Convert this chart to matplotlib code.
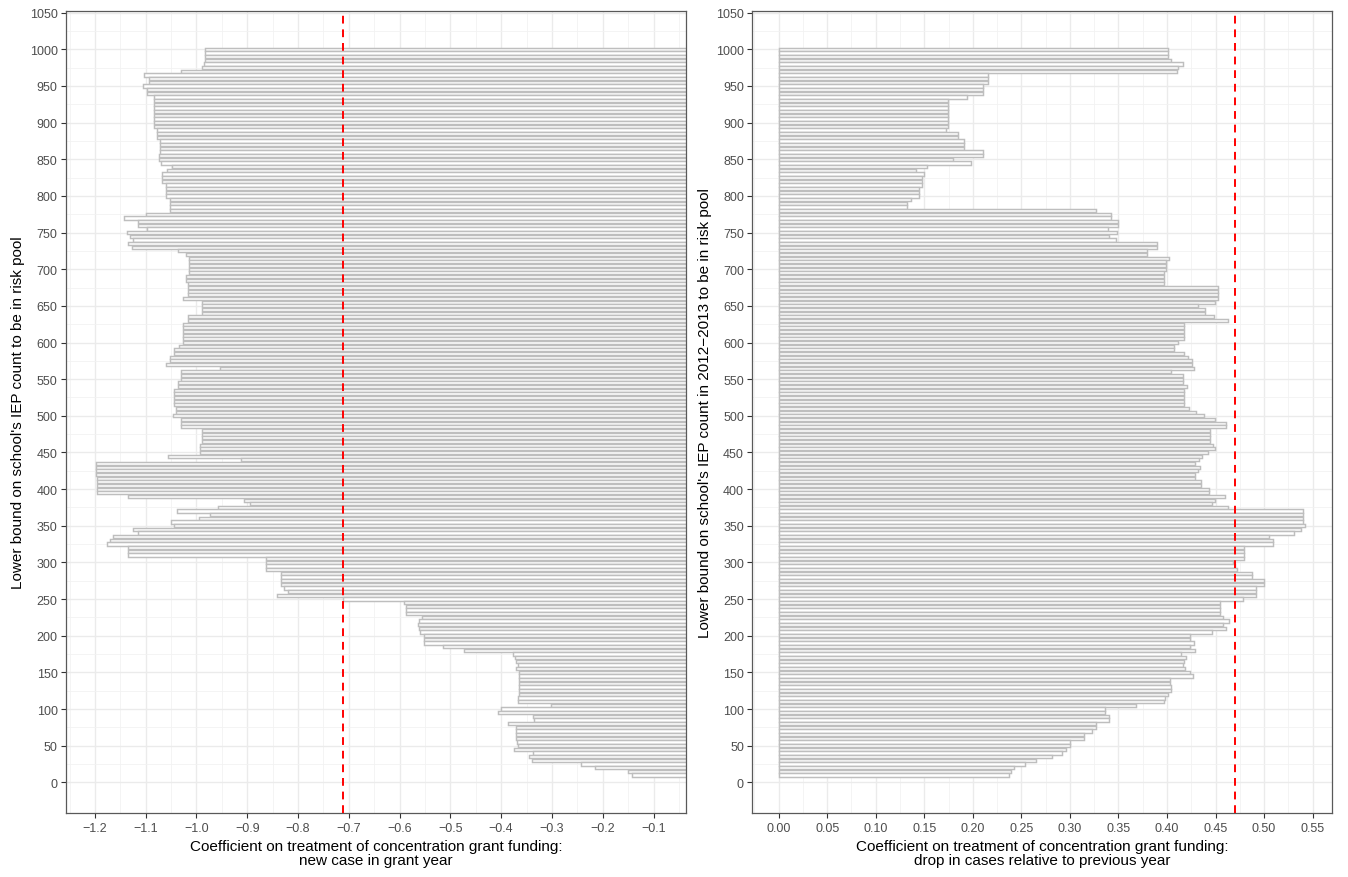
import matplotlib
matplotlib.use("Agg")
import matplotlib.pyplot as plt
import numpy as np
from matplotlib.ticker import FixedLocator, FuncFormatter

plt.rcParams['font.family'] = ['Liberation Sans', 'DejaVu Sans']

# IEP-count thresholds (descending, 1000 .. 10)
thresholds = np.arange(1000, 5, -5)

# Left panel: coefficient on new case in grant year (one row = 10 thresholds)
coef_new_case = [
    -0.983, -0.983, -0.983, -0.983, -0.986, -0.990, -1.031, -1.104, -1.093, -1.093,  # 1000..955
    -1.105, -1.097, -1.097, -1.084, -1.084, -1.084, -1.084, -1.084, -1.084, -1.084,  # 950..905
    -1.084, -1.084, -1.077, -1.077, -1.077, -1.071, -1.071, -1.071, -1.071, -1.073,  # 900..855
    -1.073, -1.069, -1.048, -1.058, -1.067, -1.067, -1.067, -1.060, -1.060, -1.060,  # 850..805
    -1.060, -1.052, -1.052, -1.052, -1.052, -1.100, -1.143, -1.115, -1.115, -1.098,  # 800..755
    -1.136, -1.131, -1.126, -1.134, -1.128, -1.036, -1.021, -1.014, -1.014, -1.014,  # 750..705
    -1.014, -1.014, -1.021, -1.021, -1.017, -1.017, -1.017, -1.017, -1.027, -0.990,  # 700..655
    -0.990, -0.990, -0.990, -1.017, -1.017, -1.027, -1.027, -1.027, -1.027, -1.027,  # 650..605
    -1.027, -1.034, -1.044, -1.044, -1.052, -1.052, -1.060, -0.953, -1.031, -1.031,  # 600..555
    -1.031, -1.036, -1.036, -1.044, -1.044, -1.044, -1.044, -1.044, -1.040, -1.040,  # 550..505
    -1.047, -1.030, -1.030, -1.030, -0.990, -0.990, -0.990, -0.990, -0.993, -0.993,  # 500..455
    -0.993, -1.056, -0.913, -1.198, -1.197, -1.197, -1.197, -1.195, -1.195, -1.195,  # 450..405
    -1.195, -1.195, -1.134, -0.907, -0.895, -0.957, -1.039, -0.974, -0.995, -1.051,  # 400..355
    -1.044, -1.125, -1.115, -1.165, -1.170, -1.176, -1.134, -1.134, -1.134, -0.863,  # 350..305
    -0.863, -0.863, -0.863, -0.833, -0.833, -0.833, -0.833, -0.827, -0.820, -0.842,  # 300..255
    -0.712, -0.592, -0.588, -0.588, -0.588, -0.556, -0.562, -0.564, -0.561, -0.560,  # 250..205
    -0.552, -0.552, -0.552, -0.514, -0.474, -0.377, -0.373, -0.370, -0.367, -0.370,  # 200..155
    -0.365, -0.364, -0.364, -0.364, -0.364, -0.364, -0.364, -0.366, -0.367, -0.301,  # 150..105
    -0.401, -0.406, -0.337, -0.336, -0.386, -0.370, -0.371, -0.371, -0.370, -0.369,  # 100..55
    -0.366, -0.375, -0.337, -0.345, -0.340, -0.242, -0.216, -0.150, -0.142,          # 50..10
]

# Right panel: coefficient on drop in cases relative to previous year
coef_drop = [
    0.401, 0.401, 0.401, 0.404, 0.4165, 0.411, 0.410, 0.216, 0.216, 0.216,           # 1000..955
    0.211, 0.211, 0.211, 0.194, 0.1746, 0.1746, 0.1746, 0.1746, 0.1746, 0.1746,      # 950..905
    0.1746, 0.1746, 0.172, 0.1845, 0.1845, 0.1914, 0.1914, 0.1914, 0.210, 0.210,     # 900..855
    0.180, 0.198, 0.153, 0.142, 0.1496, 0.148, 0.148, 0.148, 0.1445, 0.1445,         # 850..805
    0.1445, 0.136, 0.1325, 0.1325, 0.327, 0.342, 0.342, 0.350, 0.350, 0.3396,        # 800..755
    0.348, 0.340, 0.347, 0.390, 0.390, 0.379, 0.379, 0.402, 0.399, 0.399,            # 750..705
    0.399, 0.397, 0.397, 0.397, 0.397, 0.452, 0.452, 0.452, 0.452, 0.449,            # 700..655
    0.432, 0.439, 0.439, 0.448, 0.463, 0.417, 0.417, 0.417, 0.417, 0.417,            # 650..605
    0.411, 0.407, 0.407, 0.417, 0.422, 0.4255, 0.4255, 0.428, 0.404, 0.416,          # 600..555
    0.416, 0.416, 0.421, 0.418, 0.418, 0.418, 0.418, 0.418, 0.423, 0.430,            # 550..505
    0.4378, 0.4498, 0.4604, 0.4604, 0.4446, 0.4446, 0.4446, 0.4446, 0.4474, 0.4498,  # 500..455
    0.442, 0.436, 0.433, 0.429, 0.434, 0.4315, 0.429, 0.429, 0.435, 0.435,           # 450..405
    0.4432, 0.4432, 0.460, 0.4498, 0.4466, 0.4627, 0.5397, 0.5397, 0.5397, 0.5397,   # 400..355
    0.5425, 0.538, 0.531, 0.5055, 0.509, 0.509, 0.4788, 0.4788, 0.4788, 0.4788,      # 350..305
    0.468, 0.470, 0.4725, 0.4878, 0.4878, 0.4997, 0.4997, 0.4915, 0.492, 0.492,      # 300..255
    0.478, 0.4542, 0.4542, 0.4542, 0.4542, 0.4576, 0.4638, 0.4576, 0.461, 0.4463,    # 250..205
    0.424, 0.424, 0.4275, 0.424, 0.429, 0.4142, 0.420, 0.418, 0.4166, 0.419,         # 200..155
    0.4234, 0.4268, 0.4029, 0.4029, 0.4046, 0.4046, 0.4012, 0.398, 0.397, 0.3677,    # 150..105
    0.3358, 0.3358, 0.340, 0.340, 0.3266, 0.3266, 0.3226, 0.3149, 0.3149, 0.300,     # 100..55
    0.300, 0.2962, 0.2917, 0.2814, 0.2653, 0.2533, 0.242, 0.2393, 0.2376,            # 50..10
]

ref_new_case = -0.712
ref_drop = 0.4696

y_major = list(range(0, 1051, 50))
y_minor = list(range(25, 1051, 50))
x1_major = [-1.2, -1.1, -1.0, -0.9, -0.8, -0.7, -0.6, -0.5, -0.4, -0.3, -0.2, -0.1]
x2_major = [0.00, 0.05, 0.10, 0.15, 0.20, 0.25, 0.30, 0.35, 0.40, 0.45, 0.50, 0.55]

W, H = 1348, 878
fig = plt.figure(figsize=(W / 100, H / 100), dpi=100)
top_px, bot_px = 12.0, 814.3
ax1 = fig.add_axes([66 / W, 1 - bot_px / H, (686 - 66) / W, (bot_px - top_px) / H])
ax2 = fig.add_axes([752.3 / W, 1 - bot_px / H, (1331.7 - 752.3) / W, (bot_px - top_px) / H])


def style(ax, xmaj, fmt):
    ax.set_facecolor('white')
    ax.set_axisbelow(True)
    for s in ax.spines.values():
        s.set_color('#595959')
        s.set_linewidth(0.9)
    ax.yaxis.set_major_locator(FixedLocator(y_major))
    ax.yaxis.set_minor_locator(FixedLocator(y_minor))
    ax.xaxis.set_major_locator(FixedLocator(xmaj))
    xmin = [(a + b) / 2 for a, b in zip(xmaj[:-1], xmaj[1:])]
    xmin = [xmaj[0] - (xmaj[1] - xmaj[0]) / 2] + xmin + [xmaj[-1] + (xmaj[1] - xmaj[0]) / 2]
    ax.xaxis.set_minor_locator(FixedLocator(xmin))
    ax.xaxis.set_major_formatter(FuncFormatter(fmt))
    ax.grid(True, which='major', color='#EBEBEB', linewidth=1.0)
    ax.grid(True, which='minor', color='#F2F2F2', linewidth=0.6)
    ax.tick_params(which='major', length=3.5, width=0.8, color='#333333',
                   labelsize=9, labelcolor='#4D4D4D', pad=2.5)
    ax.tick_params(which='minor', length=0)
    ax.set_ylim(-42.25, 1052.25)


style(ax1, x1_major, lambda v, p: f"{v:.1f}".replace('-', '\u2212'))
style(ax2, x2_major, lambda v, p: f"{v:.2f}")

ax1.barh(thresholds, coef_new_case, height=4.4, color='white',
         edgecolor='#BEBEBE', linewidth=1.05, zorder=2)
ax2.barh(thresholds, coef_drop, height=4.4, color='white',
         edgecolor='#BEBEBE', linewidth=1.05, zorder=2)

ax1.axvline(ref_new_case, color='red', linestyle=(0, (4, 3)), linewidth=1.4, zorder=4)
ax2.axvline(ref_drop, color='red', linestyle=(0, (4, 3)), linewidth=1.4, zorder=4)

ax1.set_xlim(-1.257, -0.036)
ax2.set_xlim(-0.0271, 0.5696)

ax1.set_xlabel("Coefficient on treatment of concentration grant funding:\nnew case in grant year",
               fontsize=11, color='black', linespacing=1.0, labelpad=4)
ax2.set_xlabel("Coefficient on treatment of concentration grant funding:\ndrop in cases relative to previous year",
               fontsize=11, color='black', linespacing=1.0, labelpad=4)
ax1.set_ylabel("Lower bound on school's IEP count to be in risk pool",
               fontsize=11, color='black', labelpad=3)
ax2.set_ylabel("Lower bound on school's IEP count in 2012\u22122013 to be in risk pool",
               fontsize=11, color='black', labelpad=3)

fig.savefig("out.png", dpi=100, facecolor='white')
